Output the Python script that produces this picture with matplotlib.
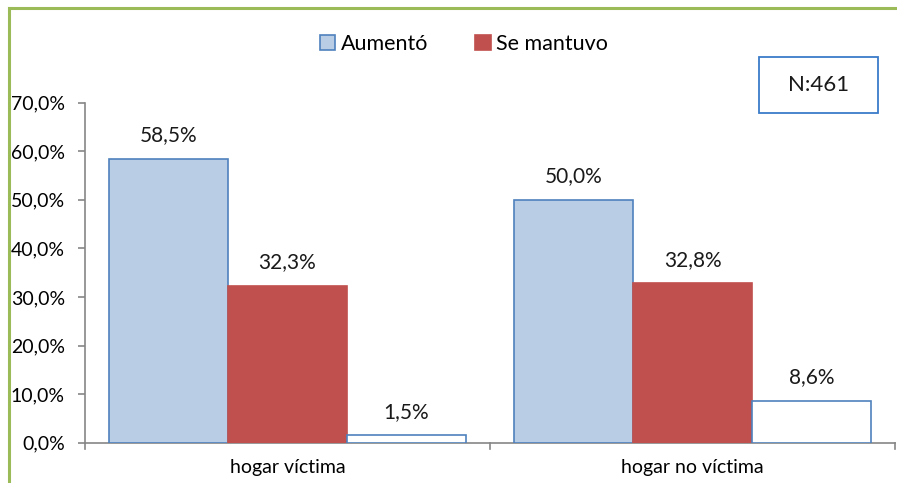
import matplotlib.pyplot as plt
import matplotlib.patches as patches
from matplotlib.lines import Line2D
import numpy as np

categories = ["hogar víctima", "hogar no víctima"]
series_names = ["Aumentó", "Se mantuvo", "Disminuyó"]
aumento = [58.5, 50.0]
se_mantuvo = [32.3, 32.8]
disminuyo = [1.5, 8.6]
y_ticks = [0, 10, 20, 30, 40, 50, 60, 70]

plt.rcParams['font.family'] = ['Lato', 'DejaVu Sans']
FS = 14

W, H = 897, 483
fig = plt.figure(figsize=(W / 100, H / 100), dpi=100)

# green outer frame (partly cut off in the original)
fig.add_artist(Line2D([9 / W, 9 / W], [0, 1 - 7.5 / H], color="#9BBB59", lw=2.2,
                      transform=fig.transFigure))
fig.add_artist(Line2D([9 / W, 1], [1 - 7.5 / H, 1 - 7.5 / H], color="#9BBB59", lw=2.2,
                      transform=fig.transFigure))

ax = fig.add_axes([85 / W, 40.3 / H, 810 / W, 340 / H])

x = np.arange(len(categories))
bw = 0.294
colors = [("#B9CDE5", "#4F81BD"), ("#C0504D", "#C0504D"), ("white", "#4F81BD")]
data = [aumento, se_mantuvo, disminuyo]
bars_all = []
for i, (vals, (fc, ec)) in enumerate(zip(data, colors)):
    bars = ax.bar(x + (i - 1) * bw, vals, bw, color=fc, edgecolor=ec, linewidth=1.2,
                  label=series_names[i], zorder=3)
    bars_all.append(bars)
    for b, v in zip(bars, vals):
        ax.annotate(f"{v:.1f}%".replace(".", ","), (b.get_x() + b.get_width() / 2, v),
                    xytext=(0, 17), textcoords="offset points", ha="center", va="center",
                    fontsize=15, color="#1a1a1a")

ax.set_xlim(-0.5, len(categories) - 0.5)
ax.set_ylim(0, 70)
ax.set_yticks(y_ticks)
ax.set_yticklabels([f"{t:.1f}%".replace(".", ",") for t in y_ticks], fontsize=FS)
ax.set_xticks(x)
ax.set_xticklabels(categories, fontsize=FS)
ax.tick_params(axis="x", length=0, pad=12)
ax.tick_params(axis="y", length=5, color="#868686", width=1.2, pad=9.5)
for s in ["top", "right"]:
    ax.spines[s].set_visible(False)
for s in ["left", "bottom"]:
    ax.spines[s].set_color("#868686")
    ax.spines[s].set_linewidth(1.2)

# category boundary ticks
for xb in [-0.5, 0.5, 1.5]:
    ax.plot([xb, xb], [0, -1.3], color="#868686", lw=1.2, clip_on=False, zorder=4)

handles = [bars_all[0], bars_all[1]]
fig.legend(handles, series_names[:2], loc="center", bbox_to_anchor=(464 / W, 1 - 44 / H),
           ncol=2, frameon=False, fontsize=15.5, handlelength=0.7, handleheight=0.7,
           handletextpad=0.25, columnspacing=2.2)

# N box
fig.add_artist(patches.Rectangle((759 / W, 1 - 113 / H), 119 / W, 56 / H, fill=False,
                                 edgecolor="#3A7BC8", lw=1.3, transform=fig.transFigure))
fig.text(818.5 / W, 1 - 85 / H, "N:461", ha="center", va="center", fontsize=16,
         color="#1a1a1a")

fig.savefig("out.png", dpi=100)
